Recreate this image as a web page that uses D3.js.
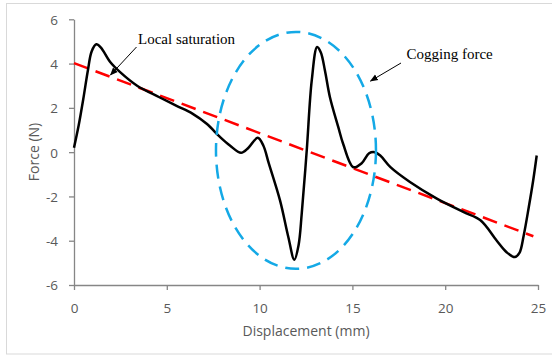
<!DOCTYPE html>
<html>
<head>
<meta charset="utf-8">
<script src="https://cdn.jsdelivr.net/npm/d3@7"></script>
<style>
  html, body { margin: 0; padding: 0; background: #fff; }
  svg { display: block; }
</style>
</head>
<body>
<svg id="chart" width="552" height="357"></svg>
<script>
// Force vs displacement samples (mm, N)
const displacement = [0, 0.25, 0.5, 0.75, 0.95, 1.2, 1.45, 1.95, 2.5, 3.4, 4.6, 5.5, 6.4, 7.15, 7.85, 8.4, 9.0, 9.4, 9.9, 10.2, 10.5, 11.1, 11.55, 11.87, 12.1, 12.27, 12.54, 12.81, 13.1, 13.3, 13.52, 13.79, 14.24, 14.5, 15.05, 15.5, 15.9, 16.2, 16.5, 17.05, 18.1, 19.55, 21.0, 21.9, 22.77, 23.31, 23.75, 24.0, 24.23, 24.5, 24.74, 24.93];
const force = [0.2, 1.2, 2.4, 3.7, 4.55, 4.87, 4.72, 4.07, 3.6, 3.0, 2.48, 2.1, 1.73, 1.28, 0.7, 0.3, -0.03, 0.2, 0.65, 0.3, -0.52, -2.18, -3.84, -4.86, -4.2, -2.78, 0.08, 3.24, 4.75, 4.5, 3.69, 2.48, 1.13, 0.38, -0.68, -0.5, -0.05, 0.0, -0.15, -0.68, -1.35, -2.1, -2.71, -3.08, -3.99, -4.52, -4.74, -4.55, -3.76, -2.5, -1.28, -0.15];

// Linear trend (red dashed)
const trendX = [0, 24.75];
const trendY = [4.02, -3.8];

// Cogging region ellipse: centre (mm, N) and radii (mm, N)
const ellipseCentre = [11.96, 0.08];
const ellipseRadii = [4.31, 5.35];

// Axis ticks
const xTicks = [0, 5, 10, 15, 20, 25];
const yTicks = [-6, -4, -2, 0, 2, 4, 6];

const svg = d3.select("#chart");
const x = d3.scaleLinear().domain([0, 25]).range([74, 538]);
const y = d3.scaleLinear().domain([-6, 6]).range([285, 19.3]);

const axisColor = "#868686";
const labelColor = "#595959";
const labelFont = "'Open Sans', sans-serif";

// Outer frame
svg.append("rect")
  .attr("x", 6.5).attr("y", 3.5).attr("width", 560).attr("height", 350.5)
  .attr("fill", "none").attr("stroke", "#d9d9d9").attr("stroke-width", 1);

// Axes
const xAxis = svg.append("g").attr("transform", `translate(0,${y(-6)})`)
  .call(d3.axisBottom(x).tickValues(xTicks).tickSize(5).tickSizeOuter(0).tickPadding(13));
const yAxis = svg.append("g").attr("transform", `translate(${x(0)},0)`)
  .call(d3.axisLeft(y).tickValues(yTicks).tickSize(5).tickSizeOuter(0).tickPadding(11)
    .tickFormat(d => d < 0 ? "-" + Math.abs(d) : d));
[xAxis, yAxis].forEach(g => {
  g.select(".domain").attr("stroke", axisColor).attr("stroke-width", 1.3);
  g.selectAll(".tick line").attr("stroke", axisColor).attr("stroke-width", 1.3);
  g.selectAll(".tick text").attr("fill", labelColor)
    .style("font-family", labelFont).style("font-size", "13.5px");
});
xAxis.selectAll(".tick text").attr("dy", 0).attr("y", 313 - y(-6));
yAxis.selectAll(".tick text").attr("dy", "0.36em");

// Axis titles
svg.append("text")
  .attr("x", 306).attr("y", 336).attr("text-anchor", "middle")
  .attr("fill", labelColor).style("font-family", labelFont).style("font-size", "14px")
  .text("Displacement (mm)");
svg.append("text")
  .attr("transform", "translate(39,152) rotate(-90)").attr("text-anchor", "middle")
  .attr("fill", labelColor).style("font-family", labelFont).style("font-size", "14px")
  .text("Force (N)");

// Trend line
svg.append("line")
  .attr("x1", x(trendX[0])).attr("y1", y(trendY[0]))
  .attr("x2", x(trendX[1])).attr("y2", y(trendY[1]))
  .attr("stroke", "#ff0000").attr("stroke-width", 2.5)
  .attr("stroke-dasharray", "15,8");

// Force curve
const pts = displacement.map((d, i) => [d, force[i]]);
svg.append("path")
  .datum(pts)
  .attr("fill", "none").attr("stroke", "#000").attr("stroke-width", 2.5)
  .attr("stroke-linejoin", "round")
  .attr("d", d3.line().x(d => x(d[0])).y(d => y(d[1])).curve(d3.curveCatmullRom.alpha(0.5)));

// Cogging region ellipse
svg.append("ellipse")
  .attr("cx", x(ellipseCentre[0])).attr("cy", y(ellipseCentre[1]))
  .attr("rx", x(ellipseRadii[0]) - x(0)).attr("ry", y(0) - y(ellipseRadii[1]))
  .attr("fill", "none").attr("stroke", "#14a9e6").attr("stroke-width", 2.5)
  .attr("stroke-dasharray", "14,8");

// Arrow marker
svg.append("defs").append("marker")
  .attr("id", "arrow").attr("viewBox", "0 0 10 10").attr("refX", 9).attr("refY", 5)
  .attr("markerWidth", 8).attr("markerHeight", 8).attr("markerUnits", "userSpaceOnUse")
  .attr("orient", "auto")
  .append("path").attr("d", "M0,1 L10,5 L0,9 Z").attr("fill", "#000");

// Annotations
const noteFont = "'Liberation Serif', 'Times New Roman', serif";
svg.append("text").attr("x", 138).attr("y", 43.5)
  .style("font-family", noteFont).style("font-size", "15px").attr("fill", "#000")
  .text("Local saturation");
svg.append("line").attr("x1", 136.5).attr("y1", 47).attr("x2", 110.5).attr("y2", 75)
  .attr("stroke", "#000").attr("stroke-width", 1).attr("marker-end", "url(#arrow)");

svg.append("text").attr("x", 406.5).attr("y", 59)
  .style("font-family", noteFont).style("font-size", "15px").attr("fill", "#000")
  .text("Cogging force");
svg.append("line").attr("x1", 401).attr("y1", 63).attr("x2", 370.5).attr("y2", 81)
  .attr("stroke", "#000").attr("stroke-width", 1).attr("marker-end", "url(#arrow)");
</script>
</body>
</html>
